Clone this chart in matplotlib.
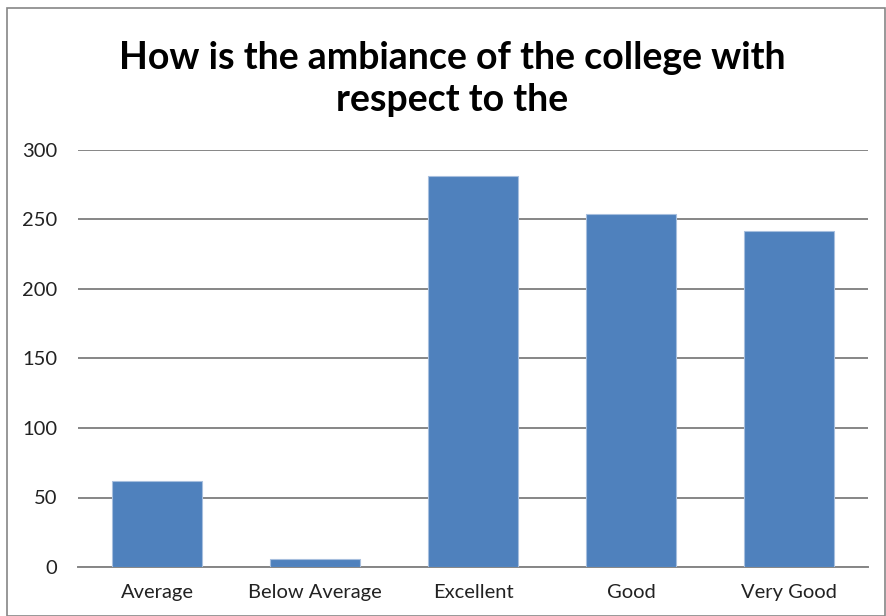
import matplotlib.pyplot as plt

# Данные с графика
categories = ['Average', 'Below Average', 'Excellent', 'Good', 'Very Good']
counts = [62, 6, 281, 254, 242]
yticks = [0, 50, 100, 150, 200, 250, 300]

plt.rcParams['font.family'] = ['Lato', 'DejaVu Sans']

fig = plt.figure(figsize=(8.86, 6.16), dpi=100)
ax = fig.add_axes([78 / 886, (616 - 567) / 616, 790 / 886, 417 / 616])

ax.bar(range(len(categories)), counts, width=0.57, color='#4f81bd',
       edgecolor='#a7bfde', linewidth=0.8, zorder=3)

ax.set_xlim(-0.5, len(categories) - 0.5)
ax.set_ylim(0, 300)
ax.set_yticks(yticks)
ax.set_xticks(range(len(categories)))
ax.set_xticklabels(categories)
ax.tick_params(axis='both', length=0, labelsize=14.5, colors='#222222')
ax.tick_params(axis='y', pad=15)
ax.tick_params(axis='x', pad=12)

ax.yaxis.grid(True, color='#868686', linewidth=1.4, zorder=0)
for s in ['top', 'right', 'left']:
    ax.spines[s].set_visible(False)
ax.spines['bottom'].set_color('#868686')
ax.spines['bottom'].set_linewidth(1.4)

fig.text(452 / 886, 1 - 79 / 616, 'How is the ambiance of the college with\nrespect to the',
         ha='center', va='center', fontsize=27, fontweight='bold',
         linespacing=1.3)

# Рамка диаграммы
fig.patches.append(plt.Rectangle((7 / 886, 0), 878 / 886, 1 - 8 / 616,
                                 transform=fig.transFigure, fill=False,
                                 edgecolor='#868686', linewidth=1.2))

fig.savefig('out.png', dpi=100)
